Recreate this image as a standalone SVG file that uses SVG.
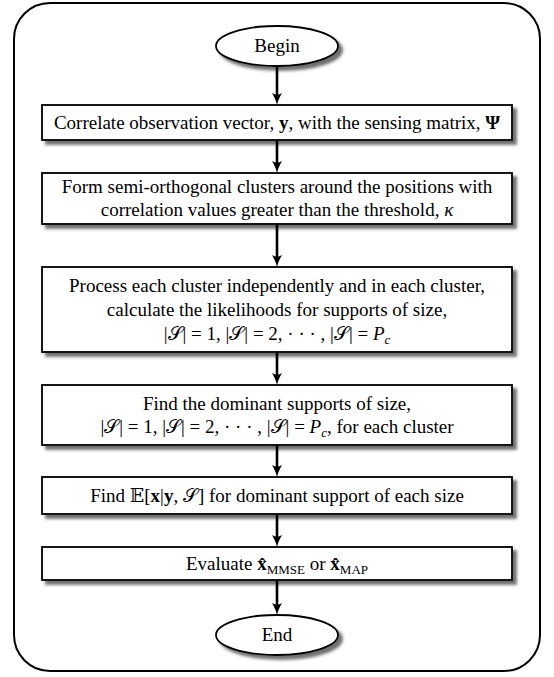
<svg xmlns="http://www.w3.org/2000/svg" width="554" height="677" viewBox="0 0 554 677">
<defs>
<filter id="sh" x="-5%" y="-20%" width="115%" height="160%">
<feDropShadow dx="4" dy="4" stdDeviation="1.8" flood-color="#333" flood-opacity="0.7"/>
</filter>
<marker id="ah" viewBox="0 0 12 12" markerWidth="12" markerHeight="12" refX="6" refY="6" orient="auto" markerUnits="userSpaceOnUse">
<path d="M0,1 Q7,5 12,6 Q7,7 0,11 Q3,6 0,1 z" fill="#000"/>
</marker>
</defs>
<style>
.frame{fill:#fff;stroke:#000;stroke-width:2}
.box{fill:#fff;stroke:#000;stroke-width:1.8;filter:url(#sh)}
.t{font-family:"Liberation Serif","Times New Roman",serif;font-size:19px;fill:#000;text-anchor:middle}
.b{font-weight:bold}
.i{font-style:italic}
.m{font-family:"DejaVu Serif","DejaVu Sans",serif}
.sub{font-size:13px}
.con line{stroke:#000;stroke-width:2.6;marker-end:url(#ah)}
</style>
<rect class="frame" x="14" y="3" width="526" height="668" rx="36" ry="36"/>
<g id="begin">
<ellipse class="box" cx="277" cy="46" rx="61" ry="20"/>
<text class="t" x="277" y="52">Begin</text>
</g>
<g id="step1">
<rect class="box" x="42" y="105" width="470" height="35"/>
<text class="t" x="277" y="128.5">Correlate observation vector, <tspan class="b">y</tspan>, with the sensing matrix, <tspan class="b">Ψ</tspan></text>
</g>
<g id="step2">
<rect class="box" x="42" y="173" width="470" height="51"/>
<text class="t" x="277" y="193">Form semi-orthogonal clusters around the positions with</text>
<text class="t" x="277" y="216">correlation values greater than the threshold, <tspan class="i">κ</tspan></text>
</g>
<g id="step3">
<rect class="box" x="42" y="267" width="470" height="85"/>
<text class="t" x="277" y="292">Process each cluster independently and in each cluster,</text>
<text class="t" x="277" y="316">calculate the likelihoods for supports of size,</text>
<text class="t" x="277" y="340">|<tspan class="m">𝒮</tspan>| = 1, |<tspan class="m">𝒮</tspan>| = 2, · · · , |<tspan class="m">𝒮</tspan>| = <tspan class="i">P</tspan><tspan class="i sub" dy="4">c</tspan></text>
</g>
<g id="step4">
<rect class="box" x="42" y="385" width="470" height="60"/>
<text class="t" x="277" y="410">Find the dominant supports of size,</text>
<text class="t" x="277" y="433">|<tspan class="m">𝒮</tspan>| = 1, |<tspan class="m">𝒮</tspan>| = 2, · · · , |<tspan class="m">𝒮</tspan>| = <tspan class="i">P</tspan><tspan class="i sub" dy="4">c</tspan><tspan dy="-4">, for each cluster</tspan></text>
</g>
<g id="step5">
<rect class="box" x="42" y="477" width="470" height="37"/>
<text class="t" x="277" y="502">Find <tspan class="m">𝔼</tspan>[<tspan class="b">x</tspan>|<tspan class="b">y</tspan>, <tspan class="m">𝒮</tspan>] for dominant support of each size</text>
</g>
<g id="step6">
<rect class="box" x="42" y="547" width="470" height="33"/>
<text class="t" x="277" y="570">Evaluate <tspan class="b">x̂</tspan><tspan class="sub" dy="4">MMSE</tspan><tspan dy="-4"> or </tspan><tspan class="b">x̂</tspan><tspan class="sub" dy="4">MAP</tspan></text>
</g>
<g id="end">
<ellipse class="box" cx="277" cy="635" rx="61" ry="20"/>
<text class="t" x="277" y="641">End</text>
</g>
<g id="connectors" class="con">
<line x1="277" y1="66" x2="277" y2="99"/>
<line x1="277" y1="140" x2="277" y2="167"/>
<line x1="277" y1="224" x2="277" y2="261"/>
<line x1="277" y1="352" x2="277" y2="379"/>
<line x1="277" y1="445" x2="277" y2="471"/>
<line x1="277" y1="514" x2="277" y2="541"/>
<line x1="277" y1="580" x2="277" y2="609"/>
</g>
</svg>
